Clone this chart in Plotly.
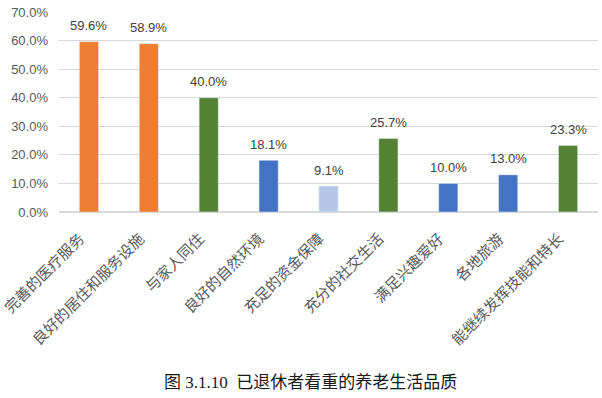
import plotly.graph_objects as go

categories = ["完善的医疗服务", "良好的居住和服务设施", "与家人同住", "良好的自然环境",
              "充足的资金保障", "充分的社交生活", "满足兴趣爱好", "各地旅游", "能继续发挥技能和特长"]
values = [59.6, 58.9, 40.0, 18.1, 9.1, 25.7, 10.0, 13.0, 23.3]
colors = ["#ED7D31", "#ED7D31", "#548235", "#4472C4", "#B4C7E7", "#548235", "#4472C4", "#4472C4", "#548235"]
tick_vals = [0, 10, 20, 30, 40, 50, 60, 70]
tick_text = [f"{v:.1f}%" for v in tick_vals]
title_text = "图 3.1.10  已退休者看重的养老生活品质"

fig = go.Figure(go.Bar(
    x=categories, y=values, marker_color=colors, width=0.32,
))
annotations = [dict(x=c, y=v, text=f"{v:.1f}%", xref="x", yref="y", showarrow=False,
                    yshift=16, yanchor="middle", xanchor="center",
                    font=dict(size=13, color="#404040", family="Liberation Sans, Arial"))
               for c, v in zip(categories, values)]
annotations.append(dict(text=title_text, xref="paper", yref="paper", x=0.466, y=0,
                        yshift=-170, xanchor="center", yanchor="middle", showarrow=False,
                        font=dict(size=17, color="#1a1a1a",
                                  family="Liberation Serif, Noto Sans CJK SC")))
fig.update_layout(
    width=602, height=398,
    margin=dict(l=59, r=4, t=12, b=186),
    paper_bgcolor="white", plot_bgcolor="white",
    showlegend=False,
    font=dict(family="Noto Sans CJK SC", color="#595959"),
    xaxis=dict(tickangle=-45, tickfont=dict(size=15, color="#595959"), showline=False,
               ticks="", showgrid=False, automargin=False,
               ticklabelstandoff=14, ticklabelshift=-9),
    yaxis=dict(range=[0, 70], tickvals=tick_vals, ticktext=tick_text,
               tickfont=dict(size=13, color="#595959", family="Liberation Sans, Arial"),
               gridcolor="#D9D9D9", gridwidth=1, zeroline=True, zerolinecolor="#D9D9D9",
               showline=False, ticks="", automargin=False, ticklabelstandoff=10),
    annotations=annotations,
)
fig.write_html("out.html", config={"displayModeBar": False},
               post_script="document.body.style.margin='0';")
